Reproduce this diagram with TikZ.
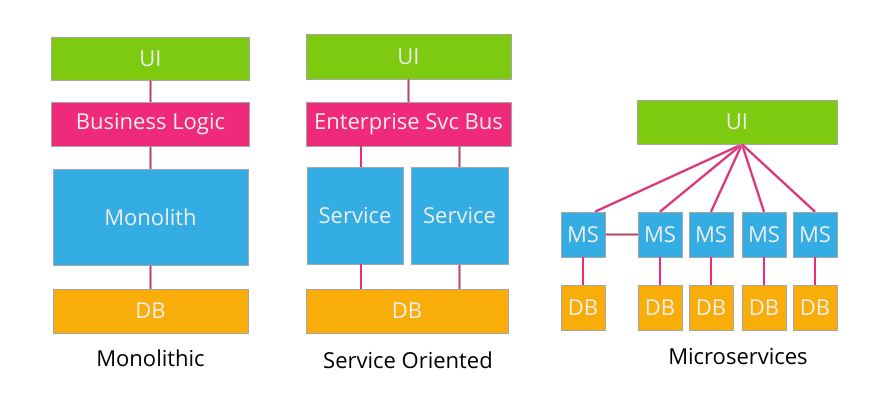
\documentclass[tikz,border=0pt]{standalone}
\usepackage{fontspec}
\setmainfont{Open Sans}
\definecolor{uigreen}{HTML}{7DCA10}
\definecolor{logicpink}{HTML}{F02A7B}
\definecolor{svcblue}{HTML}{34ADE4}
\definecolor{dborange}{HTML}{F8AD09}
\definecolor{boxtext}{HTML}{EEEEEE}
\begin{document}
\begin{tikzpicture}[x=1pt, y=1pt,
        box/.style = {draw=gray!70, line width=0.6pt, inner sep=0pt, text=boxtext, font=\fontsize{22}{26}\selectfont},
        link/.style = {draw=gray!60, double=logicpink, double distance=1.8pt, line width=0.4pt},
        caption/.style = {font=\fontsize{22}{26}\selectfont}]
    \useasboundingbox (0, 0) rectangle (886, 401);
    % monolithic
    \node [box, fill=uigreen, minimum width=198, minimum height=43] (ui1) at (150.5, 342.5) {UI};
    \node [box, fill=logicpink, minimum width=198, minimum height=44] (logic) at (150.5, 277) {Business Logic};
    \node [box, fill=svcblue, minimum width=195, minimum height=96] (mono) at (150.5, 184) {Monolith};
    \node [box, fill=dborange, minimum width=195, minimum height=44] (db1) at (150.5, 90) {DB};
    \node [caption] (cap1) at (150.5, 43) {Monolithic};
    \draw [link] (ui1) -- (logic);
    \draw [link] (logic) -- (mono);
    \draw [link] (mono) -- (db1);
    % service oriented
    \node [box, fill=uigreen, minimum width=205, minimum height=45] (ui2) at (408.5, 344.5) {UI};
    \node [box, fill=logicpink, minimum width=205, minimum height=44] (esb) at (408.5, 277) {Enterprise Svc Bus};
    \node [box, fill=svcblue, minimum width=96, minimum height=97] (svc1) at (355, 185.5) {Service};
    \node [box, fill=svcblue, minimum width=97, minimum height=97] (svc2) at (459.5, 185.5) {Service};
    \node [box, fill=dborange, minimum width=202, minimum height=44] (db2) at (407, 90) {DB};
    \node [caption] (cap2) at (408, 41) {Service Oriented};
    \draw [link] (ui2) -- (esb);
    \draw [link] ([xshift=6]svc1.north) -- ([xshift=6]svc1.north |- esb.south);
    \draw [link] (svc2) -- (svc2 |- esb.south);
    \draw [link] ([xshift=6]svc1.south) -- ([xshift=6]svc1.south |- db2.north);
    \draw [link] (svc2) -- (svc2 |- db2.north);
    % microservices
    \node [box, fill=uigreen, minimum width=200, minimum height=44] (ui3) at (737, 279) {UI};
    \coordinate (hub) at ([xshift=5]ui3.south);
    \foreach \i/\x in {1/583, 2/660, 3/711, 4/764, 5/815} {
        \node [box, fill=svcblue, minimum width=44, minimum height=45] (ms\i) at (\x, 166.5) {MS};
        \node [box, fill=dborange, minimum width=44, minimum height=45] (msdb\i) at (\x, 93.5) {DB};
        \draw [link] (ms\i) -- (msdb\i);
    }
    \draw [link] (hub) -- ([xshift=12]ms1.north);
    \foreach \i in {2,...,5}
        \draw [link] (hub) -- (ms\i.north);
    \draw [link] (ms1) -- (ms2);
    \node [caption] (cap3) at (738, 44) {Microservices};
\end{tikzpicture}
\end{document}
